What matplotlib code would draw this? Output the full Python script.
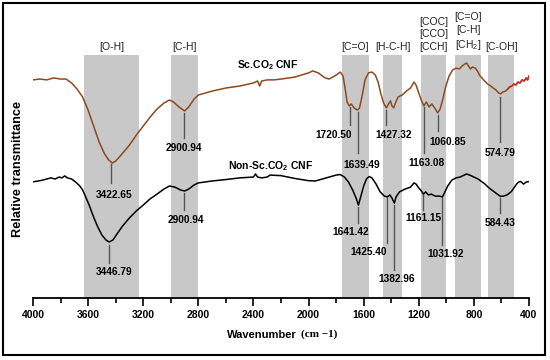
import numpy as np
import matplotlib
matplotlib.use("Agg")
import matplotlib.pyplot as plt
from matplotlib.patches import Rectangle

matplotlib.rcParams["font.family"] = ["Liberation Sans", "DejaVu Sans"]
matplotlib.rcParams["mathtext.default"] = "regular"

# wavenumber (cm-1) and relative transmittance
sc_wn = [4000, 3950, 3900, 3850, 3800, 3760, 3720, 3680, 3640, 3600, 3560, 3520, 3480, 3450,
         3425, 3400, 3360, 3300, 3250, 3200, 3150, 3100, 3050, 3010, 2980, 2940, 2900, 2870,
         2830, 2800, 2700, 2600, 2500, 2400, 2370, 2355, 2340, 2300, 2250, 2200, 2100, 2000,
         1970, 1930, 1880, 1850, 1800, 1770, 1750, 1735, 1720, 1705, 1690, 1670, 1645, 1630,
         1610, 1590, 1565, 1540, 1515, 1495, 1475, 1455, 1435, 1420, 1405, 1395, 1382, 1370,
         1350, 1320, 1290, 1260, 1235, 1220, 1200, 1180, 1163, 1145, 1125, 1105, 1085, 1062,
         1045, 1025, 1005, 980, 955, 930, 905, 885, 865, 852, 840, 825, 810, 790, 775, 755,
         730, 700, 670, 640, 620, 605, 590, 570, 555, 540, 525, 510, 495, 480, 465, 450, 435,
         420, 410, 400]
sc_t = [77.9, 78.2, 77.9, 78.6, 78.2, 78.2, 76.8, 74.6, 71.8, 67.1, 61.4, 55.7, 51.4, 49.3,
        48.2, 48.9, 51.1, 54.6, 58.2, 61.4, 64.6, 67.5, 69.6, 70.7, 70.0, 68.2, 66.8, 68.2,
        71.1, 72.5, 73.9, 75.0, 75.7, 76.8, 77.5, 75.7, 77.5, 77.9, 77.9, 78.2, 78.9, 80.4,
        81.1, 80.4, 78.6, 78.2, 79.6, 80.7, 79.3, 75.0, 70.0, 68.6, 69.3, 67.9, 67.1, 67.9,
        72.5, 77.9, 80.4, 80.7, 79.6, 77.1, 72.9, 69.6, 67.9, 69.3, 70.4, 68.6, 67.9, 69.6,
        71.8, 72.5, 73.9, 75.0, 77.1, 76.1, 73.2, 70.4, 68.6, 70.0, 68.2, 69.3, 67.9, 66.1,
        67.5, 71.1, 75.4, 79.3, 81.4, 82.1, 81.8, 82.9, 83.6, 83.9, 82.9, 81.8, 82.5, 82.1,
        81.1, 79.3, 77.9, 76.4, 75.4, 74.3, 73.2, 72.9, 73.6, 73.9, 74.6, 75.4, 75.7, 76.4,
        76.1, 77.1, 76.8, 77.9, 77.5, 78.6, 77.9, 79.3]

non_wn = [4000, 3960, 3930, 3900, 3870, 3840, 3810, 3790, 3770, 3750, 3720, 3690, 3660, 3640,
          3620, 3590, 3560, 3530, 3500, 3470, 3447, 3420, 3390, 3350, 3300, 3250, 3200, 3150,
          3100, 3050, 3010, 2970, 2930, 2900, 2870, 2830, 2800, 2700, 2600, 2500, 2400, 2385,
          2370, 2340, 2300, 2280, 2200, 2100, 2000, 1950, 1900, 1850, 1800, 1770, 1740, 1710,
          1680, 1655, 1638, 1620, 1600, 1580, 1560, 1540, 1510, 1480, 1450, 1428, 1410, 1395,
          1377, 1365, 1340, 1300, 1260, 1235, 1220, 1200, 1180, 1167, 1150, 1130, 1110, 1080,
          1050, 1028, 1010, 990, 960, 930, 900, 870, 853, 830, 800, 770, 750, 720, 690, 660,
          630, 607, 585, 560, 530, 505, 490, 475, 460, 440, 420, 400]
non_t = [41.5, 41.8, 42.1, 42.5, 42.9, 42.5, 43.2, 42.9, 43.6, 42.9, 42.5, 41.4, 40.0, 38.6,
         36.4, 32.9, 28.9, 25.4, 22.5, 20.7, 20.0, 20.7, 22.9, 25.7, 28.6, 31.1, 33.2, 35.4,
         37.1, 38.9, 40.0, 39.6, 38.6, 38.2, 38.9, 40.4, 41.1, 41.8, 42.3, 42.9, 43.2, 44.3,
         43.2, 42.9, 43.2, 43.9, 43.7, 42.7, 41.9, 41.8, 42.5, 43.2, 43.9, 44.1, 43.2, 41.4,
         38.6, 35.7, 33.2, 36.4, 40.0, 42.5, 43.4, 42.9, 40.7, 37.9, 36.4, 36.1, 36.8, 35.7,
         33.9, 36.1, 37.9, 38.9, 39.6, 41.1, 40.7, 39.3, 38.2, 37.1, 37.9, 36.8, 37.1, 36.4,
         36.4, 36.1, 37.9, 40.0, 42.1, 42.9, 43.2, 43.9, 44.3, 43.9, 43.2, 42.5, 41.8, 40.7,
         39.3, 38.2, 37.1, 36.3, 36.4, 36.8, 37.9, 39.6, 40.7, 41.4, 41.6, 40.7, 41.4, 41.6]

# shaded band ranges and their labels
bands = [(3630, 3230), (3000, 2800), (1760, 1560), (1460, 1320), (1185, 1000), (935, 745), (695, 510)]
band_labels = ["[O-H]", "[C-H]", "[C=O]", "[H-C-H]", "[COC]\n[CCO]\n[CCH]",
               "[C=O]\n[C-H]\n[CH$_2$]", "[C-OH]"]

# peak marks: (line x, line top, line bottom, text x, text y, label)
sc_peaks = [(3434, 47.9, 41.1, 3412, 36.8, "3422.65"),
            (2902, 66.1, 57.1, 2902, 53.6, "2900.94"),
            (1700, 68.2, 61.8, 1819, 58.2, "1720.50"),
            (1638, 66.4, 51.8, 1613, 47.5, "1639.49"),
            (1437, 67.1, 61.8, 1381, 58.2, "1427.32"),
            (1159, 68.2, 51.8, 1144, 48.2, "1163.08"),
            (1062, 65.4, 59.6, 987, 55.7, "1060.85"),
            (608, 71.8, 55.7, 608, 51.8, "574.79")]
non_peaks = [(3447, 18.9, 12.5, 3412, 9.4, "3446.79"),
             (2902, 37.5, 31.4, 2890, 27.9, "2900.94"),
             (1638, 32.5, 26.8, 1692, 23.7, "1641.42"),
             (1428, 35.7, 19.6, 1567, 16.5, "1425.40"),
             (1377, 33.2, 10.0, 1360, 6.7, "1382.96"),
             (1167, 36.8, 31.4, 1167, 28.5, "1161.15"),
             (1028, 35.7, 18.9, 1006, 15.6, "1031.92"),
             (607, 35.7, 30.4, 607, 26.7, "584.43")]

fig = plt.figure(figsize=(5.5, 3.6), dpi=100)
ax = fig.add_axes([0.06, 0.1722, 0.9018, 0.7778])

for (a, b), lbl in zip(bands, band_labels):
    ax.axvspan(b, a, ymin=0, ymax=0.868, color="#c8c8c8", lw=0, zorder=0)
    ax.text((a + b) / 2, 87.9, lbl, ha="center", va="bottom", fontsize=7.5,
            linespacing=1.3, color="#222222")

sc_wn = np.array(sc_wn)
sc_t = np.array(sc_t)
ax.plot(sc_wn, sc_t, color="#8b4a22", lw=1.1, zorder=3)
red = sc_wn <= 560
ax.plot(sc_wn[red], sc_t[red], color="#cc2a1e", lw=1.1, zorder=4)
ax.plot(non_wn, non_t, color="black", lw=1.1, zorder=3)

for x, y0, y1, tx, ty, lbl in sc_peaks + non_peaks:
    ax.plot([x, x], [y0, y1], color="#555555", lw=1, zorder=2)
    ax.text(tx, ty, lbl, ha="center", va="center", fontsize=7.3, fontweight="bold")

ax.text(2293, 83.2, "Sc.CO$_2$ CNF", ha="center", va="center", fontsize=7.5, fontweight="bold")
ax.text(2273, 47.1, "Non-Sc.CO$_2$ CNF", ha="center", va="center", fontsize=7.5, fontweight="bold")

ax.set_xlim(4000, 400)
ax.set_ylim(0, 100)
ax.set_xticks(np.arange(4000, 399, -400))
ax.set_xticks(np.arange(3800, 400, -400), minor=True)
ax.tick_params(axis="x", which="major", direction="out", length=5.8, width=1.2, pad=3,
               labelsize=7.5)
ax.tick_params(axis="x", which="minor", direction="out", length=3.6, width=1.2)
for t in ax.get_xticklabels():
    t.set_fontweight("bold")
ax.set_yticks([])
for s in ["left", "top", "right"]:
    ax.spines[s].set_visible(False)
ax.spines["bottom"].set_linewidth(1.3)

fig.text(0.540, 0.069, "Wavenumber", ha="right", va="center", fontsize=8, fontweight="bold")
fig.text(0.548, 0.072, "(cm \u22121)", ha="left", va="center", fontsize=8, fontweight="bold",
         family=["Liberation Serif", "DejaVu Serif"])
fig.text(0.033, 0.53, "Relative transmittance", rotation=90, ha="center", va="center",
         fontsize=9.2, fontweight="bold")

fig.add_artist(Rectangle((0.0055, 0.0139), 0.9855, 0.9778, transform=fig.transFigure,
                         fill=False, lw=1.5, edgecolor="black"))

fig.savefig("out.png", dpi=100)
